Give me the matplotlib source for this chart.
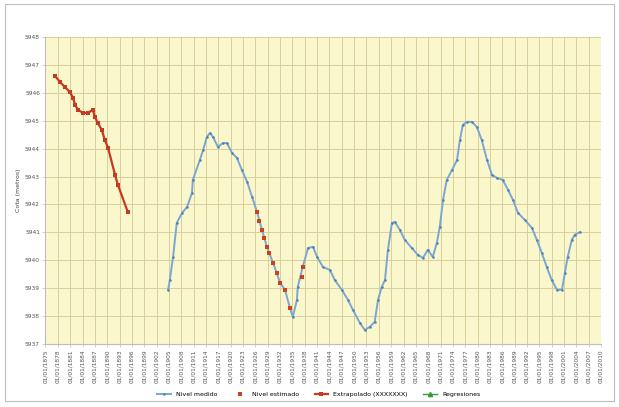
import matplotlib
matplotlib.use("Agg")
import matplotlib.pyplot as plt
from matplotlib.patches import Rectangle

# ---- data ----
tick_years = list(range(1875, 2011, 3))
tick_labels = ["01/01/%d" % y for y in tick_years]
y_ticks = list(range(5937, 5949))

est_years = [1877.3, 1878.5, 1879.7, 1880.9, 1881.7, 1882.2, 1882.9, 1884.1, 1885.3,
             1886.5, 1887.0, 1887.7, 1888.7, 1889.4, 1890.2, 1891.9, 1892.6, 1895.0]
est_vals = [5946.61, 5946.39, 5946.21, 5946.03, 5945.82, 5945.57, 5945.39, 5945.28, 5945.28,
            5945.39, 5945.14, 5944.92, 5944.67, 5944.31, 5944.03, 5943.06, 5942.70, 5941.73]

meas_years = [1904.8, 1905.2, 1906.0, 1906.9, 1908.2, 1909.4, 1910.6, 1910.8, 1912.5, 1913.3,
              1914.2, 1915.0, 1915.7, 1916.9, 1918.1, 1919.1, 1920.3, 1921.5, 1922.7, 1924.0,
              1925.2, 1926.4, 1927.6, 1928.8, 1930.3, 1931.2, 1932.0, 1933.2, 1934.4, 1935.1,
              1936.1, 1936.3, 1937.5, 1938.8, 1940.0, 1941.0, 1942.4, 1944.1, 1945.3, 1947.0,
              1948.5, 1949.7, 1951.4, 1952.6, 1953.8, 1955.0, 1955.8, 1956.7, 1957.5, 1958.2,
              1959.2, 1959.9, 1961.1, 1962.3, 1964.0, 1965.5, 1966.7, 1967.9, 1969.1, 1970.1,
              1970.8, 1971.6, 1972.5, 1973.8, 1975.0, 1975.7, 1976.4, 1977.4, 1978.6, 1979.8,
              1981.0, 1982.3, 1983.5, 1984.7, 1986.1, 1987.4, 1988.6, 1989.8, 1991.5, 1993.2,
              1994.4, 1995.6, 1996.8, 1998.0, 1999.3, 2000.5, 2001.2, 2001.9, 2002.9, 2003.6,
              2004.9]
meas_vals = [5938.94, 5939.29, 5940.12, 5941.34, 5941.70, 5941.91, 5942.41, 5942.88, 5943.59, 5943.95,
             5944.42, 5944.56, 5944.42, 5944.06, 5944.20, 5944.20, 5943.85, 5943.67, 5943.24, 5942.81,
             5942.27, 5941.73, 5941.09, 5940.48, 5939.90, 5939.54, 5939.19, 5938.94, 5938.29, 5937.97,
             5938.58, 5939.04, 5939.76, 5940.44, 5940.48, 5940.12, 5939.76, 5939.65, 5939.29, 5938.94,
             5938.58, 5938.22, 5937.75, 5937.50, 5937.61, 5937.79, 5938.58, 5939.04, 5939.29, 5940.37,
             5941.34, 5941.37, 5941.09, 5940.73, 5940.44, 5940.19, 5940.08, 5940.37, 5940.12, 5940.62,
             5941.19, 5942.16, 5942.88, 5943.24, 5943.59, 5944.31, 5944.85, 5944.96, 5944.96, 5944.78,
             5944.31, 5943.59, 5943.06, 5942.95, 5942.88, 5942.52, 5942.16, 5941.70, 5941.44, 5941.16,
             5940.73, 5940.26, 5939.76, 5939.29, 5938.94, 5938.94, 5939.54, 5940.12, 5940.73, 5940.91,
             5941.01]

gap_years = [1926.4, 1927.0, 1927.6, 1928.2, 1928.8, 1929.3, 1930.3, 1931.2, 1932.0, 1933.2,
             1934.4, 1937.3, 1937.6]
gap_vals = [5941.73, 5941.40, 5941.09, 5940.80, 5940.48, 5940.25, 5939.90, 5939.54, 5939.19,
            5938.94, 5938.29, 5939.40, 5939.76]

reg_years = []
reg_vals = []

# ---- figure ----
fig = plt.figure(figsize=(6.19, 4.07), dpi=100)
fig.patch.set_facecolor("white")
fig.add_artist(Rectangle((0.008, 0.015), 0.984, 0.975, transform=fig.transFigure,
                         fill=False, edgecolor="#bdbdbd", linewidth=0.8))

ax = fig.add_axes([0.0735, 0.155, 0.8975, 0.754])
ax.set_facecolor("#fbf7cc")

ax.plot(meas_years, meas_vals, color="#7aa7d2", linewidth=1.4, marker="o",
        markersize=1.8, markerfacecolor="#4f7fb0", markeredgewidth=0,
        label="Nivel medido", zorder=3)
ax.plot(gap_years, gap_vals, linestyle="none", marker="s", color="#d04020",
        markersize=3.4, markeredgewidth=0, label="Nivel estimado", zorder=4)
ax.plot(est_years, est_vals, color="#c43a22", linewidth=1.6, marker="s",
        markersize=3.2, markeredgewidth=0, label="Extrapolado (XXXXXXX)", zorder=4)
ax.plot(reg_years, reg_vals, color="#3a9a3a", linewidth=1.0, marker="^",
        markersize=3, label="Regresiones", zorder=4)

ax.set_xlim(1875, 2010)
ax.set_ylim(5937, 5948)
ax.set_xticks(tick_years)
ax.set_xticklabels(tick_labels, rotation=90, fontsize=4.2, color="#555555")
ax.set_yticks(y_ticks)
ax.set_yticklabels([str(v) for v in y_ticks], fontsize=4.2, color="#555555")
ax.set_ylabel("Cota (metros)", fontsize=4.5, color="#444444", labelpad=3)

ax.grid(True, which="major", color="#d8cf9a", linewidth=0.7)
ax.set_axisbelow(True)
for s in ["top", "right"]:
    ax.spines[s].set_visible(False)
for s in ["left", "bottom"]:
    ax.spines[s].set_color("#bdbdbd")
ax.tick_params(length=2, width=0.5, color="#bdbdbd", pad=2)

fig.legend(loc="lower center", bbox_to_anchor=(0.515, 0.01), ncol=4, frameon=False,
           fontsize=4.5, handlelength=2.2, columnspacing=2.5)

fig.savefig("out.png", dpi=100, facecolor="white")
